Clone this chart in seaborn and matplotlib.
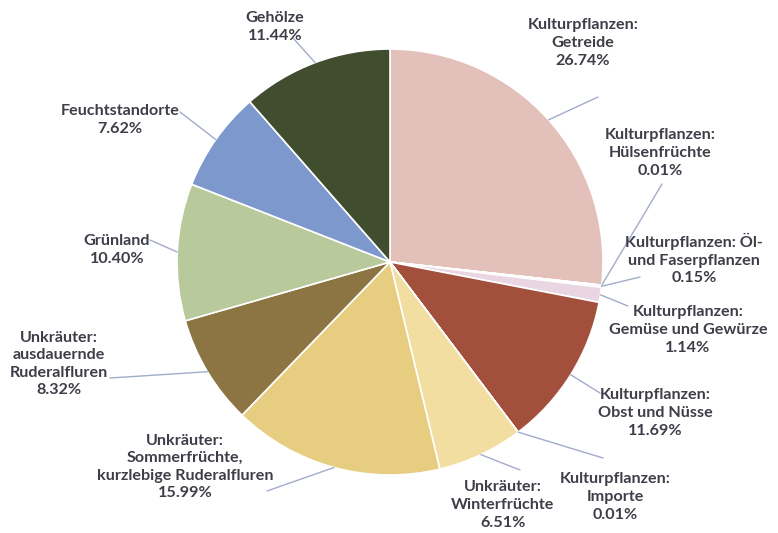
import numpy as np
import matplotlib
matplotlib.use("Agg")
import matplotlib.pyplot as plt
import seaborn as sns

sns.set_style("white")
plt.rcParams["font.family"] = ["Lato", "DejaVu Sans"]

# data, clockwise from 12 o'clock
labels = [
    "Kulturpflanzen:\nGetreide",
    "Kulturpflanzen:\nHülsenfrüchte",
    "Kulturpflanzen: Öl-\nund Faserpflanzen",
    "Kulturpflanzen:\nGemüse und Gewürze",
    "Kulturpflanzen:\nObst und Nüsse",
    "Kulturpflanzen:\nImporte",
    "Unkräuter:\nWinterfrüchte",
    "Unkräuter:\nSommerfrüchte,\nkurzlebige Ruderalfluren",
    "Unkräuter:\nausdauernde\nRuderalfluren",
    "Grünland",
    "Feuchtstandorte",
    "Gehölze",
]
shares = [26.74, 0.01, 0.15, 1.14, 11.69, 0.01, 6.51, 15.99, 8.32, 10.40, 7.62, 11.44]
colors = ["#E4C0BA", "#E8CCD2", "#EDDCE6", "#EAD6E2", "#A2503C", "#C8A090",
          "#F1DEA0", "#E6CD80", "#8C7443", "#B8CA9C", "#7C98CC", "#404D2E"]

# label layout in pixel coords (text centre, leader-line end)
text_pos = [(583, 43), (660, 153), (694, 259), (688, 330), (655, 413), (615, 497),
            (503, 505), (185, 467), (59, 364), (117, 250), (120, 120), (275, 27)]
line_end = [(598, 97), (662, 184), (640, 277), (628, 306), (600, 393), (603, 458),
            (520, 470), (267, 491), (110, 378), (150, 240), (180, 112), (293, 38)]

W, H = 778, 533
CX, CY, R = 390, 262, 213


def to_data(p):
    return ((p[0] - CX) / R, (CY - p[1]) / R)


fig = plt.figure(figsize=(W / 100, H / 100), dpi=100)
ax = fig.add_axes([0, 0, 1, 1])
wedges, _ = ax.pie(shares, colors=colors, startangle=90, counterclock=False,
                   wedgeprops=dict(edgecolor="white", linewidth=1.2))
ax.set_xlim(-CX / R, (W - CX) / R)
ax.set_ylim(-(H - CY) / R, CY / R)
ax.set_aspect("equal")
ax.axis("off")

for w, lab, val, tp, le in zip(wedges, labels, shares, text_pos, line_end):
    ang = np.deg2rad((w.theta1 + w.theta2) / 2)
    rim = (np.cos(ang), np.sin(ang))
    ax.plot([rim[0], to_data(le)[0]], [rim[1], to_data(le)[1]],
            color="#A2ACCB", linewidth=1, zorder=1)
    ax.text(*to_data(tp), f"{lab}\n{val:.2f}%", ha="center", va="center",
            fontsize=11.6, fontweight="bold", color="#3E3E48", linespacing=1.32)

fig.savefig("out.png", dpi=100)
